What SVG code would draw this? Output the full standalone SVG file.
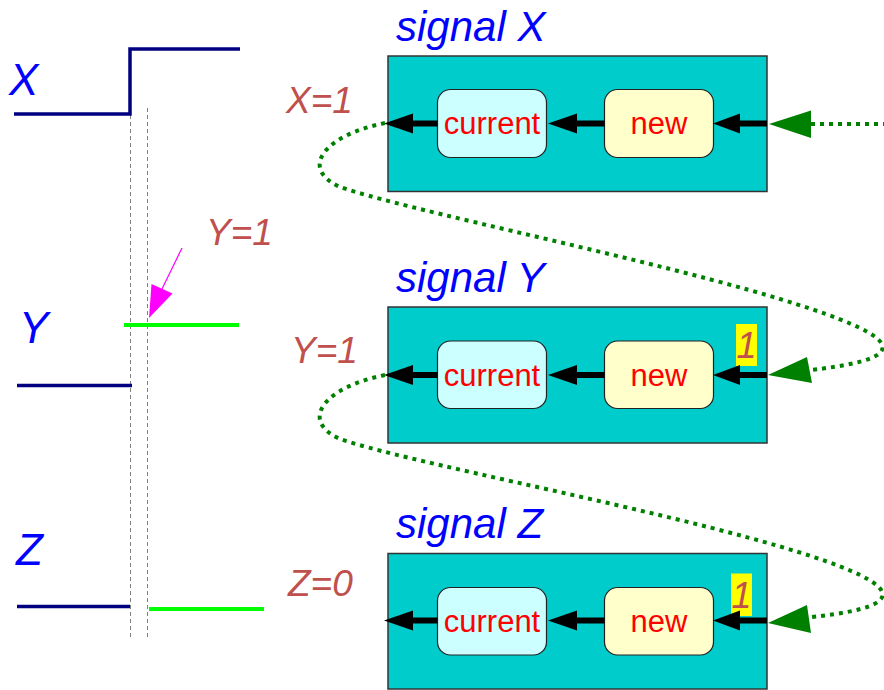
<svg xmlns="http://www.w3.org/2000/svg" width="884" height="690" viewBox="0 0 884 690">
<style>
.outer{fill:#00cccc;stroke:#333;stroke-width:1.5}
.cur{fill:#ccffff;stroke:#222;stroke-width:1.2}
.new{fill:#ffffcc;stroke:#222;stroke-width:1.2}
.lbl{font-family:"Liberation Sans",Arial,sans-serif;font-size:31px;fill:#ff0000;text-anchor:middle}
.title{font-family:"Liberation Sans",Arial,sans-serif;font-size:42px;font-style:italic;fill:#0000ff}
.sig{font-family:"Liberation Sans",Arial,sans-serif;font-size:44px;font-style:italic;fill:#0000ff}
.val{font-family:"Liberation Sans",Arial,sans-serif;font-size:37px;font-style:italic;fill:#c0504d}
.one{font-family:"Liberation Sans",Arial,sans-serif;font-size:36px;font-style:italic;fill:#c0504d;text-anchor:middle}
.bar{stroke:#000;stroke-width:6;fill:none}
.wave{stroke:#000080;stroke-width:3.5;fill:none}
.hi{stroke:#00ff00;stroke-width:4;fill:none}
.dash{stroke:#808080;stroke-width:1;stroke-dasharray:4 3;fill:none}
.dot{stroke:#008000;stroke-width:4;stroke-dasharray:4 5;fill:none}
.gh{fill:#008000}
</style>

<g id="waveforms">
<line class="dash" x1="130.5" y1="108" x2="130.5" y2="640"/>
<line class="dash" x1="147.5" y1="108" x2="147.5" y2="640"/>
<polyline class="wave" points="14,114 130,114 130,49 240,49"/>
<text class="sig" x="9" y="95">X</text>
<line class="wave" x1="17" y1="385.5" x2="132" y2="385.5"/>
<line class="hi" x1="124" y1="325" x2="239" y2="325"/>
<text class="sig" x="19" y="343">Y</text>
<line class="wave" x1="17" y1="606.5" x2="130" y2="606.5"/>
<line class="hi" x1="149" y1="609" x2="264" y2="609"/>
<text class="sig" x="16" y="565">Z</text>
<text class="val" x="206" y="245">Y=1</text>
<line x1="182" y1="248" x2="162" y2="289" stroke="#ff00ff" stroke-width="1.2"/>
<polygon points="149,318 151.5,284 172.5,293.5" fill="#ff00ff"/>
</g>

<g id="signalX">
<text class="title" x="396" y="41">signal X</text>
<rect class="outer" x="388" y="56" width="379" height="135.5"/>
<rect class="cur" x="437.5" y="89.5" width="109" height="68" rx="13"/>
<rect class="new" x="604.5" y="89.5" width="109" height="68" rx="13"/>
<text class="lbl" x="492" y="134">current</text>
<text class="lbl" x="659" y="134">new</text>
<text class="val" x="286" y="113">X=1</text>
</g>

<g id="signalY">
<text class="title" x="396" y="292">signal Y</text>
<rect class="outer" x="388" y="307" width="379" height="136"/>
<rect class="cur" x="437.5" y="341" width="109" height="67.5" rx="13"/>
<rect class="new" x="604.5" y="341" width="109" height="67.5" rx="13"/>
<text class="lbl" x="492" y="386">current</text>
<text class="lbl" x="659" y="386">new</text>
<rect x="736" y="324" width="21" height="42" fill="#ffff00"/>
<text class="one" x="746.5" y="358">1</text>
<text class="val" x="291" y="363">Y=1</text>
</g>

<g id="signalZ">
<text class="title" x="396" y="538">signal Z</text>
<rect class="outer" x="388" y="553.5" width="379" height="135.5"/>
<rect class="cur" x="437.5" y="587.5" width="109" height="67.5" rx="13"/>
<rect class="new" x="604.5" y="587.5" width="109" height="67.5" rx="13"/>
<text class="lbl" x="492" y="632">current</text>
<text class="lbl" x="659" y="632">new</text>
<rect x="731" y="573.5" width="21" height="42.5" fill="#ffff00"/>
<text class="one" x="741.5" y="608">1</text>
<text class="val" x="288" y="596">Z=0</text>
</g>

<g id="connectors">
<line class="bar" x1="767" y1="123.5" x2="738" y2="123.5"/>
<polygon points="713,123.5 740,113.5 740,133.5"/>
<line class="bar" x1="604.5" y1="123.5" x2="575" y2="123.5"/>
<polygon points="548,123.5 577,113.5 577,133.5"/>
<line class="bar" x1="437.5" y1="123.5" x2="410" y2="123.5"/>
<polygon points="384,123.5 413,113.5 413,133.5"/>
<line class="bar" x1="767" y1="375" x2="738" y2="375"/>
<polygon points="713,375 740,365 740,385"/>
<line class="bar" x1="604.5" y1="375" x2="575" y2="375"/>
<polygon points="548,375 577,365 577,385"/>
<line class="bar" x1="437.5" y1="375" x2="410" y2="375"/>
<polygon points="384,375 413,365 413,385"/>
<line class="bar" x1="767" y1="620.5" x2="738" y2="620.5"/>
<polygon points="713,620.5 740,610.5 740,630.5"/>
<line class="bar" x1="604.5" y1="620.5" x2="575" y2="620.5"/>
<polygon points="548,620.5 577,610.5 577,630.5"/>
<line class="bar" x1="437.5" y1="620.5" x2="410" y2="620.5"/>
<polygon points="384,620.5 413,610.5 413,630.5"/>

<line class="dot" x1="811" y1="124" x2="884" y2="124"/>
<polygon class="gh" points="769,124 811,110.5 811,138"/>
<path class="dot" d="M385,123 C 325,135 298,168 340,187 C 420,215 760,280 860,328 C 905,350 880,362 811,370"/>
<polygon class="gh" points="768,375 807,357 812,383"/>
<path class="dot" d="M385,375 C 325,387 298,420 340,439 C 420,467 760,527 860,575 C 905,597 880,610 811,617"/>
<polygon class="gh" points="768,623 807,605 811,633"/>
</g>
</svg>
